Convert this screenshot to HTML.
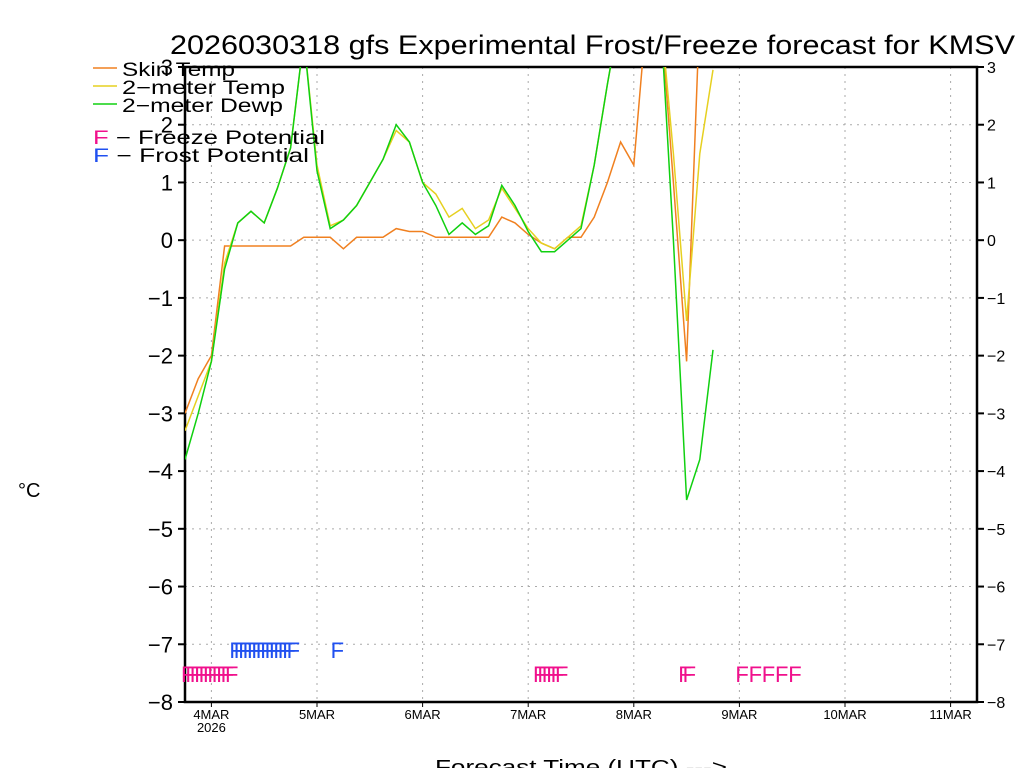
<!DOCTYPE html>
<html><head><meta charset="utf-8"><style>
body{margin:0;background:#fff;}
svg{display:block;font-family:"Liberation Sans",sans-serif;}
</style></head><body>
<svg id="chart" width="1024" height="768" viewBox="0 0 1024 768">
<text x="170" y="54" font-size="27" textLength="845" lengthAdjust="spacingAndGlyphs" fill="#000">2026030318 gfs Experimental Frost/Freeze forecast for KMSV</text>
<g id="grid"></g>
<g id="axes"></g>
<g id="series"></g>
<g id="marks"></g>
<g font-size="19" fill="#000">
<line x1="93" y1="68" x2="117" y2="68" stroke="#f08020" stroke-width="1.5"/>
<text x="122" y="76" textLength="113" lengthAdjust="spacingAndGlyphs">Skin Temp</text>
<line x1="93" y1="86" x2="117" y2="86" stroke="#e6d020" stroke-width="1.5"/>
<text x="122" y="94" textLength="163" lengthAdjust="spacingAndGlyphs">2−meter Temp</text>
<line x1="93" y1="104" x2="117" y2="104" stroke="#10d010" stroke-width="1.5"/>
<text x="122" y="112" textLength="161" lengthAdjust="spacingAndGlyphs">2−meter Dewp</text>
<text x="93" y="144" textLength="232" lengthAdjust="spacingAndGlyphs"><tspan fill="#f0108c">F</tspan> − Freeze Potential</text>
<text x="93" y="162" textLength="216" lengthAdjust="spacingAndGlyphs"><tspan fill="#2050f0">F</tspan> − Frost Potential</text>
</g>
<text x="18" y="497" font-size="20">°C</text>
<text x="435" y="774" font-size="20" textLength="292" lengthAdjust="spacingAndGlyphs">Forecast Time (UTC) ---&gt;</text>
</svg>
<script>
const hours = [0,3,6,9,12,15,18,21,24,27,30,33,36,39,42,45,48,51,54,57,60,63,66,69,72,75,78,81,84,87,90,93,96,99,102,105,108,111,114,117,120];
const skinTemp = [-3.0,-2.4,-2.0,-0.1,-0.1,-0.1,-0.1,-0.1,-0.1,0.05,0.05,0.05,-0.15,0.05,0.05,0.05,0.2,0.15,0.15,0.05,0.05,0.05,0.05,0.05,0.4,0.3,0.1,-0.05,-0.15,0.05,0.05,0.4,1.0,1.7,1.3,4,4,1.0,-2.1,4,4];
const temp2m = [-3.3,-2.7,-2.1,-0.4,0.3,0.5,0.3,0.9,1.6,3.5,1.3,0.25,0.35,0.6,1.0,1.4,1.9,1.7,1.0,0.8,0.4,0.55,0.2,0.35,0.9,0.55,0.2,-0.05,-0.15,0.05,0.25,1.3,2.7,4,4,4,4,1.5,-1.4,1.5,2.95];
const dewp2m = [-3.8,-3.0,-2.1,-0.5,0.3,0.5,0.3,0.9,1.6,3.5,1.2,0.2,0.35,0.6,1.0,1.4,2.0,1.7,1.0,0.6,0.1,0.3,0.1,0.25,0.95,0.6,0.15,-0.2,-0.2,0.0,0.2,1.3,2.7,4,4,4,4,0.0,-4.5,-3.8,-1.9];
const freezeHours = [0,1,2,3,4,5,6,7,8,9,10,80,81,82,83,84,85,113,114,126,129,132,135,138];
const frostHours = [11,12,13,14,15,16,17,18,19,20,21,22,23,24,34];
const yTicks = [3,2,1,0,-1,-2,-3,-4,-5,-6,-7,-8];
const dayLabels = ["4MAR","5MAR","6MAR","7MAR","8MAR","9MAR","10MAR","11MAR"];

const NS="http://www.w3.org/2000/svg";
const X0=185,X1=977,Y0=67,Y1=702,HMAX=180,VMIN=-8,VMAX=3;
function xs(h){return X0+(h/HMAX)*(X1-X0);}
function ys(v){return Y1-(v-VMIN)/(VMAX-VMIN)*(Y1-Y0);}
function mk(tag,attrs,parent){const e=document.createElementNS(NS,tag);for(const k in attrs)e.setAttribute(k,attrs[k]);parent.appendChild(e);return e;}
const grid=document.getElementById('grid'),axes=document.getElementById('axes'),ser=document.getElementById('series'),marks=document.getElementById('marks');

yTicks.forEach(v=>{
  const y=ys(v);
  if(v>VMIN&&v<VMAX){const g=mk('line',{x1:X0,x2:X1,y1:y,y2:y,stroke:'#aaa','stroke-dasharray':'2,5'},grid);
  
  }
  mk('line',{x1:X0-7,x2:X0,y1:y,y2:y,stroke:'#000','stroke-width':2},axes);
  mk('line',{x1:X1,x2:X1+7,y1:y,y2:y,stroke:'#000','stroke-width':2},axes);
  const lab=v<0?'−'+Math.abs(v):String(v);
  const t1=mk('text',{x:X0-12,y:y+8,'font-size':22,'text-anchor':'end'},axes);t1.textContent=lab;
  
  
  const t2=mk('text',{x:X1+10,y:y+6,'font-size':16},axes);t2.textContent=lab;
  
  
});
dayLabels.forEach((d,i)=>{
  const x=xs(6+24*i);
  const g=mk('line',{x1:x,x2:x,y1:Y0,y2:Y1,stroke:'#aaa','stroke-dasharray':'2,5'},grid);
  
  
  mk('line',{x1:x,x2:x,y1:Y1,y2:Y1+5,stroke:'#000'},axes);
  const t=mk('text',{x:x,y:719,'font-size':13,'text-anchor':'middle'},axes);t.textContent=d;
  
  
});
const yr=mk('text',{x:xs(6),y:732,'font-size':13,'text-anchor':'middle'},axes);yr.textContent='2026';


const frame=mk('rect',{x:X0,y:Y0,width:X1-X0,height:Y1-Y0,fill:'none',stroke:'#000','stroke-width':2.5},axes);



mk('clipPath',{id:'clip'},ser);
mk('rect',{x:X0,y:Y0,width:X1-X0,height:Y1-Y0},ser.lastChild);
function line(vals,color,name){
  const d=vals.map((v,i)=>(i?'L':'M')+xs(hours[i]).toFixed(1)+','+ys(v).toFixed(1)).join('');
  const p=mk('path',{d:d,fill:'none',stroke:color,'stroke-width':1.5,'clip-path':'url(#clip)'},ser);
  
  
}
line(skinTemp,'#f08020','skin-temp-line');
line(temp2m,'#e6d020','2m-temp-line');
line(dewp2m,'#10d010','2m-dewp-line');

freezeHours.forEach(h=>{
  const t=mk('text',{x:xs(h)-4,y:682,'font-size':22,fill:'#f0108c'},marks);t.textContent='F';
  
  
});
frostHours.forEach(h=>{
  const t=mk('text',{x:xs(h)-4,y:658,'font-size':22,fill:'#2050f0'},marks);t.textContent='F';
  
  
});
</script>
</body></html>
